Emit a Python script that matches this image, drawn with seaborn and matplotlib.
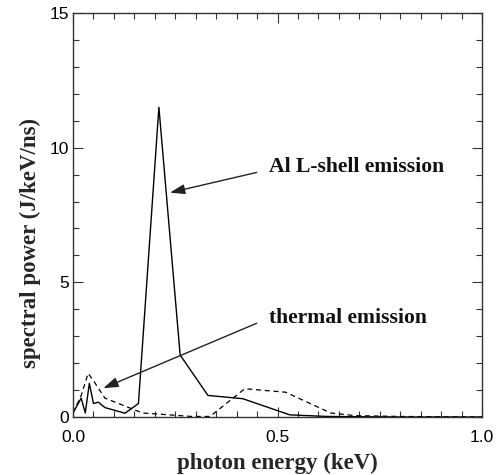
import matplotlib
matplotlib.use("Agg")
import matplotlib.pyplot as plt
import seaborn as sns
import pandas as pd
from matplotlib.ticker import MultipleLocator

# Data
al_energy = [0.0, 0.02, 0.03, 0.04, 0.05, 0.062, 0.078, 0.127, 0.16, 0.21,
             0.262, 0.33, 0.415, 0.53, 0.62, 0.7, 0.8, 0.9, 1.0]
al_power = [0.15, 0.7, 0.15, 1.25, 0.5, 0.55, 0.35, 0.14, 0.5, 11.5,
            2.3, 0.8, 0.68, 0.08, 0.02, 0.01, 0.0, 0.0, 0.0]

th_energy = [0.0, 0.02, 0.037, 0.05, 0.078, 0.17, 0.29, 0.335, 0.42, 0.52,
             0.63, 0.69, 0.8, 0.9, 1.0]
th_power = [0.15, 0.8, 1.62, 1.35, 0.7, 0.15, 0.02, 0.02, 1.05, 0.92,
            0.15, 0.05, 0.02, 0.01, 0.0]

x_ticks = [0.0, 0.5, 1.0]
x_tick_labels = ["0.0", "0.5", "1.0"]
y_ticks = [0, 5, 10, 15]
y_tick_labels = ["0", "5", "10", "15"]

sns.set_style("ticks")
plt.rcParams['font.family'] = ['Liberation Sans', 'DejaVu Sans']

fig = plt.figure(figsize=(4.98, 4.75), dpi=100)
ax = fig.add_axes([73/498, 1 - 417/475, (482 - 73)/498, (417 - 13)/475])

df_al = pd.DataFrame({"energy": al_energy, "power": al_power})
df_th = pd.DataFrame({"energy": th_energy, "power": th_power})

sns.lineplot(data=df_al, x="energy", y="power", ax=ax, color="black",
             linewidth=1.0, sort=False, estimator=None)
sns.lineplot(data=df_th, x="energy", y="power", ax=ax, color="black",
             linewidth=0.9, sort=False, estimator=None, dashes=False)
ax.lines[1].set_dashes([4, 3])

ax.set_xlim(0, 1.0)
ax.set_ylim(0, 15)
ax.set_xticks(x_ticks)
ax.set_xticklabels(x_tick_labels)
ax.set_yticks(y_ticks)
ax.set_yticklabels(y_tick_labels)
ax.xaxis.set_minor_locator(MultipleLocator(0.05))
ax.yaxis.set_minor_locator(MultipleLocator(1))
ax.tick_params(which="both", direction="in", top=True, right=True,
               colors="#333333", labelcolor="black", labelsize=12.5, width=0.8)
ax.tick_params(which="major", length=7)
ax.tick_params(which="minor", length=4.5)
ax.tick_params(axis="y", which="major", pad=3)
ax.tick_params(axis="x", which="major", pad=9)
for s in ax.spines.values():
    s.set_linewidth(1.0)
    s.set_color("#333333")

serif = ['Liberation Serif', 'DejaVu Serif']
ax.set_xlabel("photon energy (keV)", family=serif, fontweight="bold",
              fontsize=16.5, va="center")
ax.set_ylabel("spectral power (J/keV/ns)", family=serif, fontweight="bold",
              fontsize=16.5, va="center")
ax.xaxis.set_label_coords(0.5, -0.114)
ax.yaxis.set_label_coords(-0.105, 0.43)

arrow = dict(arrowstyle="-|>,head_length=0.9,head_width=0.3", color="#222222",
             lw=1.0, shrinkA=0, shrinkB=0)
ax.annotate("", xy=(0.237, 8.33), xytext=(0.449, 9.08), arrowprops=arrow)
ax.annotate("", xy=(0.074, 1.07), xytext=(0.449, 3.48), arrowprops=arrow)
ax.text(0.479, 9.3, "Al L-shell emission", family=serif, fontweight="bold",
        fontsize=15.6, va="center", ha="left", color="#111111")
ax.text(0.479, 3.68, "thermal emission", family=serif, fontweight="bold",
        fontsize=15.6, va="center", ha="left", color="#111111")

fig.savefig("out.png", dpi=100)
